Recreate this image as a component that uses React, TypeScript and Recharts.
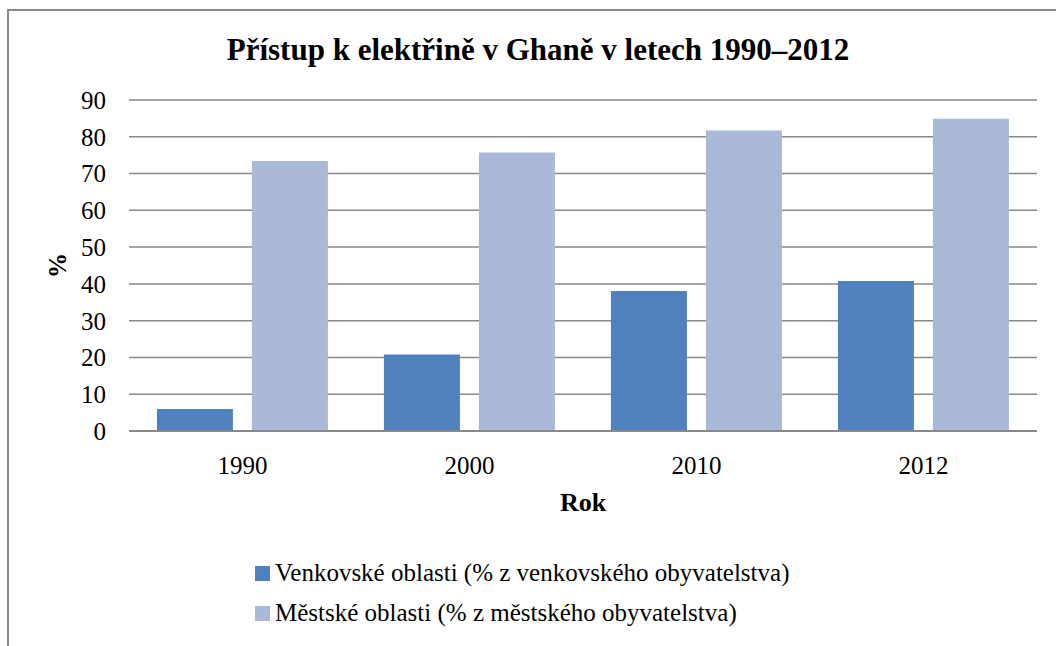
import React from 'react';
import { BarChart, Bar, XAxis, YAxis, CartesianGrid, Legend } from 'recharts';

const years = ['1990', '2000', '2010', '2012'];
const rural = [6, 20.8, 38.1, 40.8];
const urban = [73.4, 75.7, 81.7, 84.9];
const yTicks = [0, 10, 20, 30, 40, 50, 60, 70, 80, 90];

const ruralName = 'Venkovské oblasti (% z venkovského obyvatelstva)';
const urbanName = 'Městské oblasti (% z městského obyvatelstva)';
const title = 'Přístup k elektřině v Ghaně v letech 1990–2012';
const legendOrder = ['rural', 'urban'];

const data = years.map((y, i) => ({ year: y, rural: rural[i], urban: urban[i] }));

const GRID = '#898989';
const SERIF = 'Liberation Serif';
const fontCss = '#root, #root * { font-family: "Liberation Serif", "Times New Roman", serif !important; }';

const YLabel = (props: any) => {
  const vb = props.viewBox || { x: 0, y: 0, width: 0, height: 0 };
  const cx = vb.x + 18;
  const cy = vb.y + vb.height / 2;
  return (
    <text
      x={cx}
      y={cy}
      transform={`rotate(-90 ${cx} ${cy})`}
      textAnchor="middle"
      dominantBaseline="central"
      style={{ fontFamily: SERIF, fontWeight: 'bold', fontSize: 25 }}
      fill="#000"
    >
      %
    </text>
  );
};

const LegendContent = (props: any) => {
  const payload = [...(props.payload || [])].sort(
    (a: any, b: any) => legendOrder.indexOf(a.dataKey) - legendOrder.indexOf(b.dataKey)
  );
  return (
    <div style={{ fontFamily: SERIF, fontSize: 25, color: '#000' }}>
      {payload.map((p: any, i: number) => (
        <div key={i} style={{ height: 40, lineHeight: '40px', whiteSpace: 'nowrap' }}>
          <span
            style={{
              display: 'inline-block',
              width: 15,
              height: 15,
              background: p.color,
              marginRight: 5,
              verticalAlign: 'baseline',
            }}
          />
          {p.value}
        </div>
      ))}
    </div>
  );
};

export default function App() {
  return (
    <div
      style={{
        position: 'absolute',
        left: 0,
        top: 0,
        width: 1056,
        height: 646,
        overflow: 'hidden',
        background: '#fff',
        fontFamily: SERIF,
      }}
    >
      <style>{fontCss}</style>
      <div
        style={{
          position: 'absolute',
          left: 7,
          top: 9,
          width: 1100,
          height: 700,
          border: `2px solid ${GRID}`,
          boxSizing: 'border-box',
        }}
      />
      <div
        style={{
          position: 'absolute',
          left: 38,
          top: 34,
          width: 1000,
          textAlign: 'center',
          fontFamily: SERIF,
          fontWeight: 'bold',
          fontSize: 31,
          lineHeight: '31px',
          whiteSpace: 'nowrap',
          color: '#000',
        }}
      >
        {title}
      </div>
      <div style={{ position: 'absolute', left: 0, top: 0 }}>
        <BarChart
          width={1056}
          height={646}
          data={data}
          margin={{ top: 100, right: 19, bottom: 125, left: 39 }}
          barCategoryGap="12.3%"
          barGap={19}
        >
          <CartesianGrid vertical={false} stroke={GRID} strokeWidth={1.5} />
          <XAxis
            dataKey="year"
            tickLine={false}
            tickSize={0}
            tickMargin={25}
            height={90}
            axisLine={{ stroke: GRID, strokeWidth: 2 }}
            tick={{ fontFamily: SERIF, fontSize: 25, fill: '#000' }}
            label={{
              value: 'Rok',
              position: 'insideBottom',
              offset: 10,
              fontFamily: SERIF,
              fontWeight: 'bold',
              fontSize: 26,
              fill: '#000',
            }}
          />
          <YAxis
            domain={[0, 90]}
            ticks={yTicks}
            interval={0}
            width={90}
            axisLine={false}
            tickLine={false}
            tickSize={0}
            tickMargin={23}
            tick={{ fontFamily: SERIF, fontSize: 25, fill: '#000' }}
            label={<YLabel />}
          />
          <Legend
            layout="horizontal"
            align="center"
            verticalAlign="middle"
            content={<LegendContent />}
            wrapperStyle={{ left: 255, top: 553, width: 760, height: 80 }}
          />
          <Bar dataKey="rural" name={ruralName} fill="#4F81BD" isAnimationActive={false} />
          <Bar dataKey="urban" name={urbanName} fill="#AAB9D7" isAnimationActive={false} />
        </BarChart>
      </div>
    </div>
  );
}
